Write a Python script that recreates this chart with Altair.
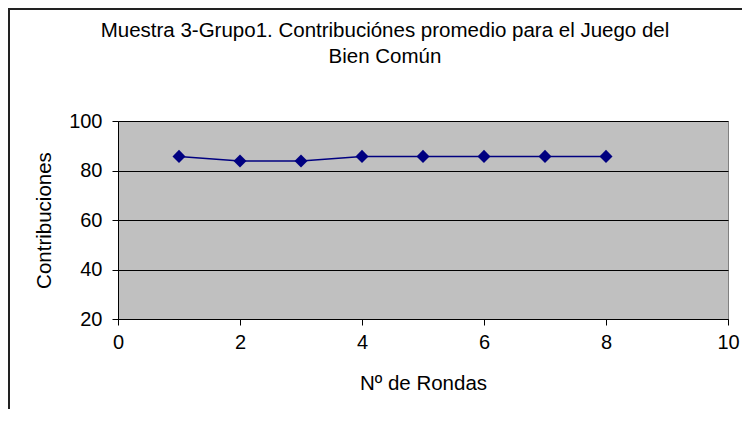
import altair as alt
import pandas as pd

rondas = [1, 2, 3, 4, 5, 6, 7, 8]
contribuciones = [85.7, 83.8, 83.8, 85.7, 85.7, 85.7, 85.7, 85.7]
x_ticks = [0, 2, 4, 6, 8, 10]
y_ticks = [20, 40, 60, 80, 100]
titulo = ["Muestra 3-Grupo1. Contribuciónes promedio para el Juego del", "Bien Común"]

df = pd.DataFrame({"ronda": rondas, "valor": contribuciones})

FONT = "Liberation Sans"
W, H = 610, 198
PAD_L, PAD_T = 110, 113
FS = 20
TFS = 20.5

x_enc = alt.X("ronda:Q", scale=alt.Scale(domain=[0, 10], nice=False),
              axis=alt.Axis(values=x_ticks, format="d", title="Nº de Rondas", grid=False,
                            labelFlush=False,
                            tickColor="black", domainColor="black", tickSize=6,
                            labelPadding=7, titlePadding=21, labelFontSize=FS,
                            titleFontSize=TFS, titleFontWeight="normal",
                            labelColor="black", titleColor="black", labelFont=FONT, titleFont=FONT))
y_enc = alt.Y("valor:Q", scale=alt.Scale(domain=[20, 100], nice=False),
              axis=alt.Axis(values=y_ticks, format="d", title="Contribuciones", grid=True,
                            gridColor="#000000", gridWidth=1, labelFlush=False,
                            tickColor="black", domainColor="black", tickSize=6,
                            labelPadding=10, titlePadding=14, labelFontSize=FS,
                            titleFontSize=TFS, titleFontWeight="normal",
                            labelColor="black", titleColor="black", labelFont=FONT, titleFont=FONT))

line = alt.Chart(df).mark_line(color="#000080", strokeWidth=1.5).encode(x=x_enc, y=y_enc)
pts = alt.Chart(df).mark_point(shape="diamond", filled=True, color="#000080", size=170, opacity=1).encode(
    x="ronda:Q", y="valor:Q")

title1 = alt.Chart(pd.DataFrame({"t": [titulo[0]]})).mark_text(
    font=FONT, fontSize=TFS, color="black", align="center", baseline="alphabetic").encode(
    text="t:N", x=alt.value(267), y=alt.value(-84))
title2 = alt.Chart(pd.DataFrame({"t": [titulo[1]]})).mark_text(
    font=FONT, fontSize=TFS, color="black", align="center", baseline="alphabetic").encode(
    text="t:N", x=alt.value(267), y=alt.value(-58))

frame_top = alt.Chart(df).mark_rule(color="#222222", strokeWidth=2).encode(
    x=alt.value(-PAD_L), x2=alt.value(W + 40), y=alt.value(-PAD_T + 1))
frame_left = alt.Chart(df).mark_rule(color="#222222", strokeWidth=2).encode(
    x=alt.value(-PAD_L + 1), y=alt.value(-PAD_T), y2=alt.value(H + 120))

chart = alt.layer(line, pts, title1, title2, frame_top, frame_left).properties(
    width=W, height=H,
    autosize=alt.AutoSizeParams(type="none"),
    padding={"left": PAD_L, "top": PAD_T, "right": 14, "bottom": 90},
).configure(background="white").configure_view(fill="#C0C0C0", stroke="#808080", strokeWidth=1)

chart.save("out.html", embed_options={"renderer": "svg", "actions": False})
